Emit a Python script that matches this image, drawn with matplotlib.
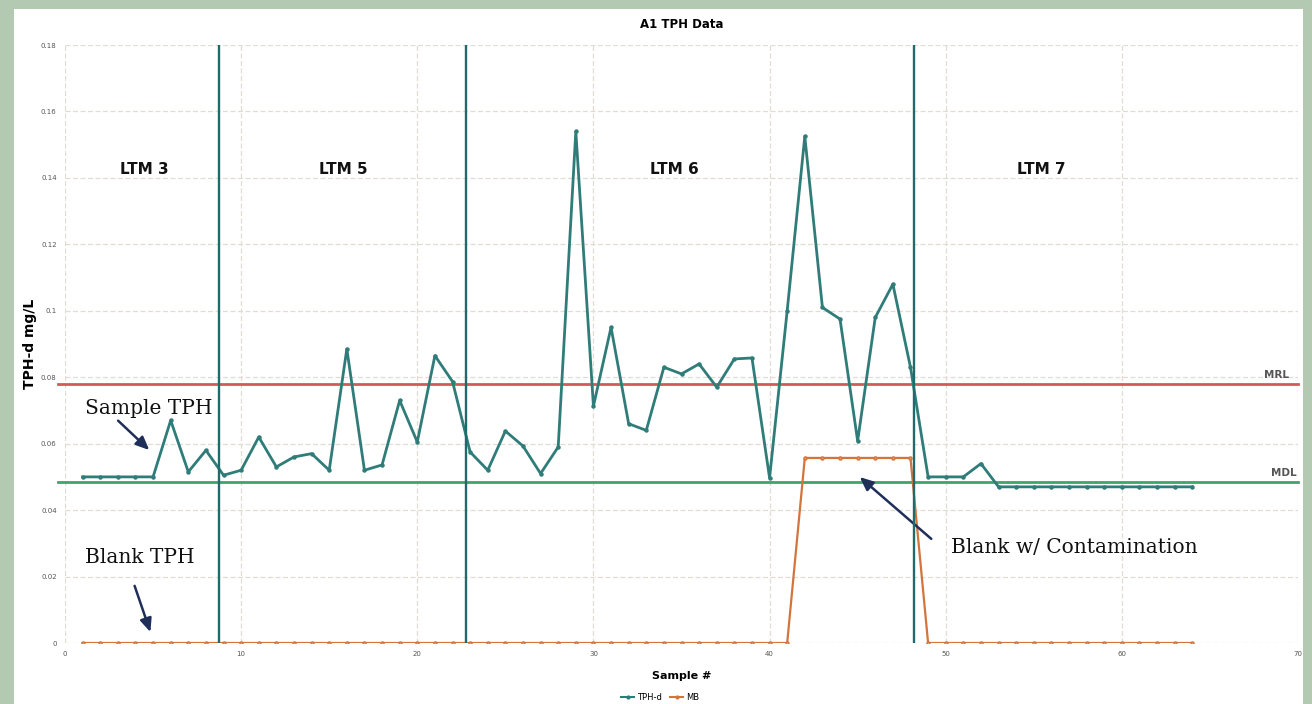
import matplotlib
matplotlib.use("Agg")
import matplotlib.pyplot as plt
from matplotlib.patches import Rectangle
from matplotlib.lines import Line2D

# Sample numbers and measured TPH-d (mg/L)
samples = list(range(1, 65))
tph_d = [0.050, 0.050, 0.050, 0.050, 0.050,
         0.067, 0.0515, 0.058, 0.0505, 0.052,
         0.062, 0.053, 0.056, 0.057, 0.052,
         0.0885, 0.052, 0.0536, 0.073, 0.0605,
         0.0865, 0.0787, 0.0575, 0.052, 0.0638,
         0.0593, 0.051, 0.059, 0.154, 0.0713,
         0.095, 0.066, 0.064, 0.083, 0.081,
         0.084, 0.077, 0.0855, 0.0858, 0.0497,
         0.100, 0.1525, 0.101, 0.0975, 0.0608,
         0.098, 0.108, 0.083, 0.050, 0.050,
         0.050, 0.054, 0.047, 0.047, 0.047,
         0.047, 0.047, 0.047, 0.047, 0.047,
         0.047, 0.047, 0.047, 0.047]
# Method blank results
mb = [0.0] * 41 + [0.0557] * 7 + [0.0] * 16

# Reporting limits
mrl = 0.078
mdl = 0.0485

# Boundaries between monitoring events and their labels
event_breaks = [8.75, 22.75, 48.2]
event_names = ["LTM 3", "LTM 5", "LTM 6", "LTM 7"]
event_label_x = [4.5, 15.8, 34.6, 55.4]

y_ticks = [0, 0.02, 0.04, 0.06, 0.08, 0.1, 0.12, 0.14, 0.16, 0.18]
x_ticks = [0, 10, 20, 30, 40, 50, 60, 70]

W, H = 1312, 704
fig = plt.figure(figsize=(W / 100, H / 100), dpi=100, facecolor="#b3c9b1")
fig.patches.append(Rectangle((14 / W, 0), (1303 - 14) / W, 1 - 9 / H,
                             transform=fig.transFigure, facecolor="white",
                             edgecolor="none", zorder=-5))

ax = fig.add_axes([65 / W, 1 - 643 / H, (1298 - 65) / W, (643 - 45) / H])
ax.set_facecolor("none")
ax.set_xlim(0, 70)
ax.set_ylim(0, 0.18)
ax.set_xticks(x_ticks)
ax.set_yticks(y_ticks)
ax.set_yticklabels([f"{v:g}" for v in y_ticks])
ax.tick_params(axis="both", length=0, labelsize=5, colors="#555555", pad=6)
for s in ax.spines.values():
    s.set_visible(False)
ax.grid(True, color="#e0ddd3", linestyle=(0, (4, 2)), linewidth=0.9)
ax.set_axisbelow(True)

teal = "#2f7c79"
ax.plot(samples, tph_d, color=teal, lw=2.0, marker="o", ms=2.2, zorder=4)
ax.plot(samples, mb, color="#d2743c", lw=1.6, marker="o", ms=2.2,
        mfc="#e0a070", mec="#d2743c", zorder=3)

ax.plot([-0.4, 70], [mrl, mrl], color="#d45a5a", lw=2.0, clip_on=False, zorder=2)
ax.plot([-0.4, 70], [mdl, mdl], color="#3fa36c", lw=2.0, clip_on=False, zorder=2)
ax.text(69.5, mrl + 0.0012, "MRL", fontsize=7.5, fontweight="bold",
        color="#555555", ha="right", va="bottom")
ax.text(69.9, mdl + 0.0012, "MDL", fontsize=7.5, fontweight="bold",
        color="#555555", ha="right", va="bottom")

for xb in event_breaks:
    ax.axvline(xb, color="#1f6b6b", lw=1.7, zorder=5)

for name, xl in zip(event_names, event_label_x):
    ax.text(xl, 0.1425, name, fontsize=11, fontweight="bold", ha="center",
            va="center", color="#111111")

ax.set_title("A1 TPH Data", fontsize=8.5, fontweight="bold", pad=12)
ax.set_xlabel("Sample #", fontsize=8, fontweight="bold", labelpad=10)
ax.set_ylabel("TPH-d mg/L", fontsize=10, fontweight="bold", labelpad=3)

arrow = dict(arrowstyle="-|>,head_width=0.35,head_length=0.8",
             color="#1f2f5a", lw=1.8)
ax.text(1.15, 0.0707, "Sample TPH", family="DejaVu Serif", fontsize=14.5,
        va="center", ha="left", color="#111111")
ax.annotate("", xy=(4.9, 0.0575), xytext=(2.9, 0.0675), arrowprops=arrow)
ax.text(1.15, 0.0256, "Blank TPH", family="DejaVu Serif", fontsize=14.5,
        va="center", ha="left", color="#111111")
ax.annotate("", xy=(4.9, 0.0025), xytext=(3.9, 0.018), arrowprops=arrow)
ax.text(50.3, 0.0287, "Blank w/ Contamination", family="DejaVu Serif",
        fontsize=14.5, va="center", ha="left", color="#111111")
ax.annotate("", xy=(45.0, 0.0505), xytext=(49.3, 0.0308), arrowprops=arrow)

handles = [Line2D([], [], color=teal, lw=1.5, marker="o", ms=2),
           Line2D([], [], color="#d2743c", lw=1.5, marker="o", ms=2)]
fig.legend(handles, ["TPH-d", "MB"], loc="center", bbox_to_anchor=(660 / W, 1 - 697 / H),
           ncol=2, frameon=False, fontsize=6, handlelength=1.6, columnspacing=1.0,
           handletextpad=0.3)

fig.savefig("out.png", dpi=100, facecolor=fig.get_facecolor())
